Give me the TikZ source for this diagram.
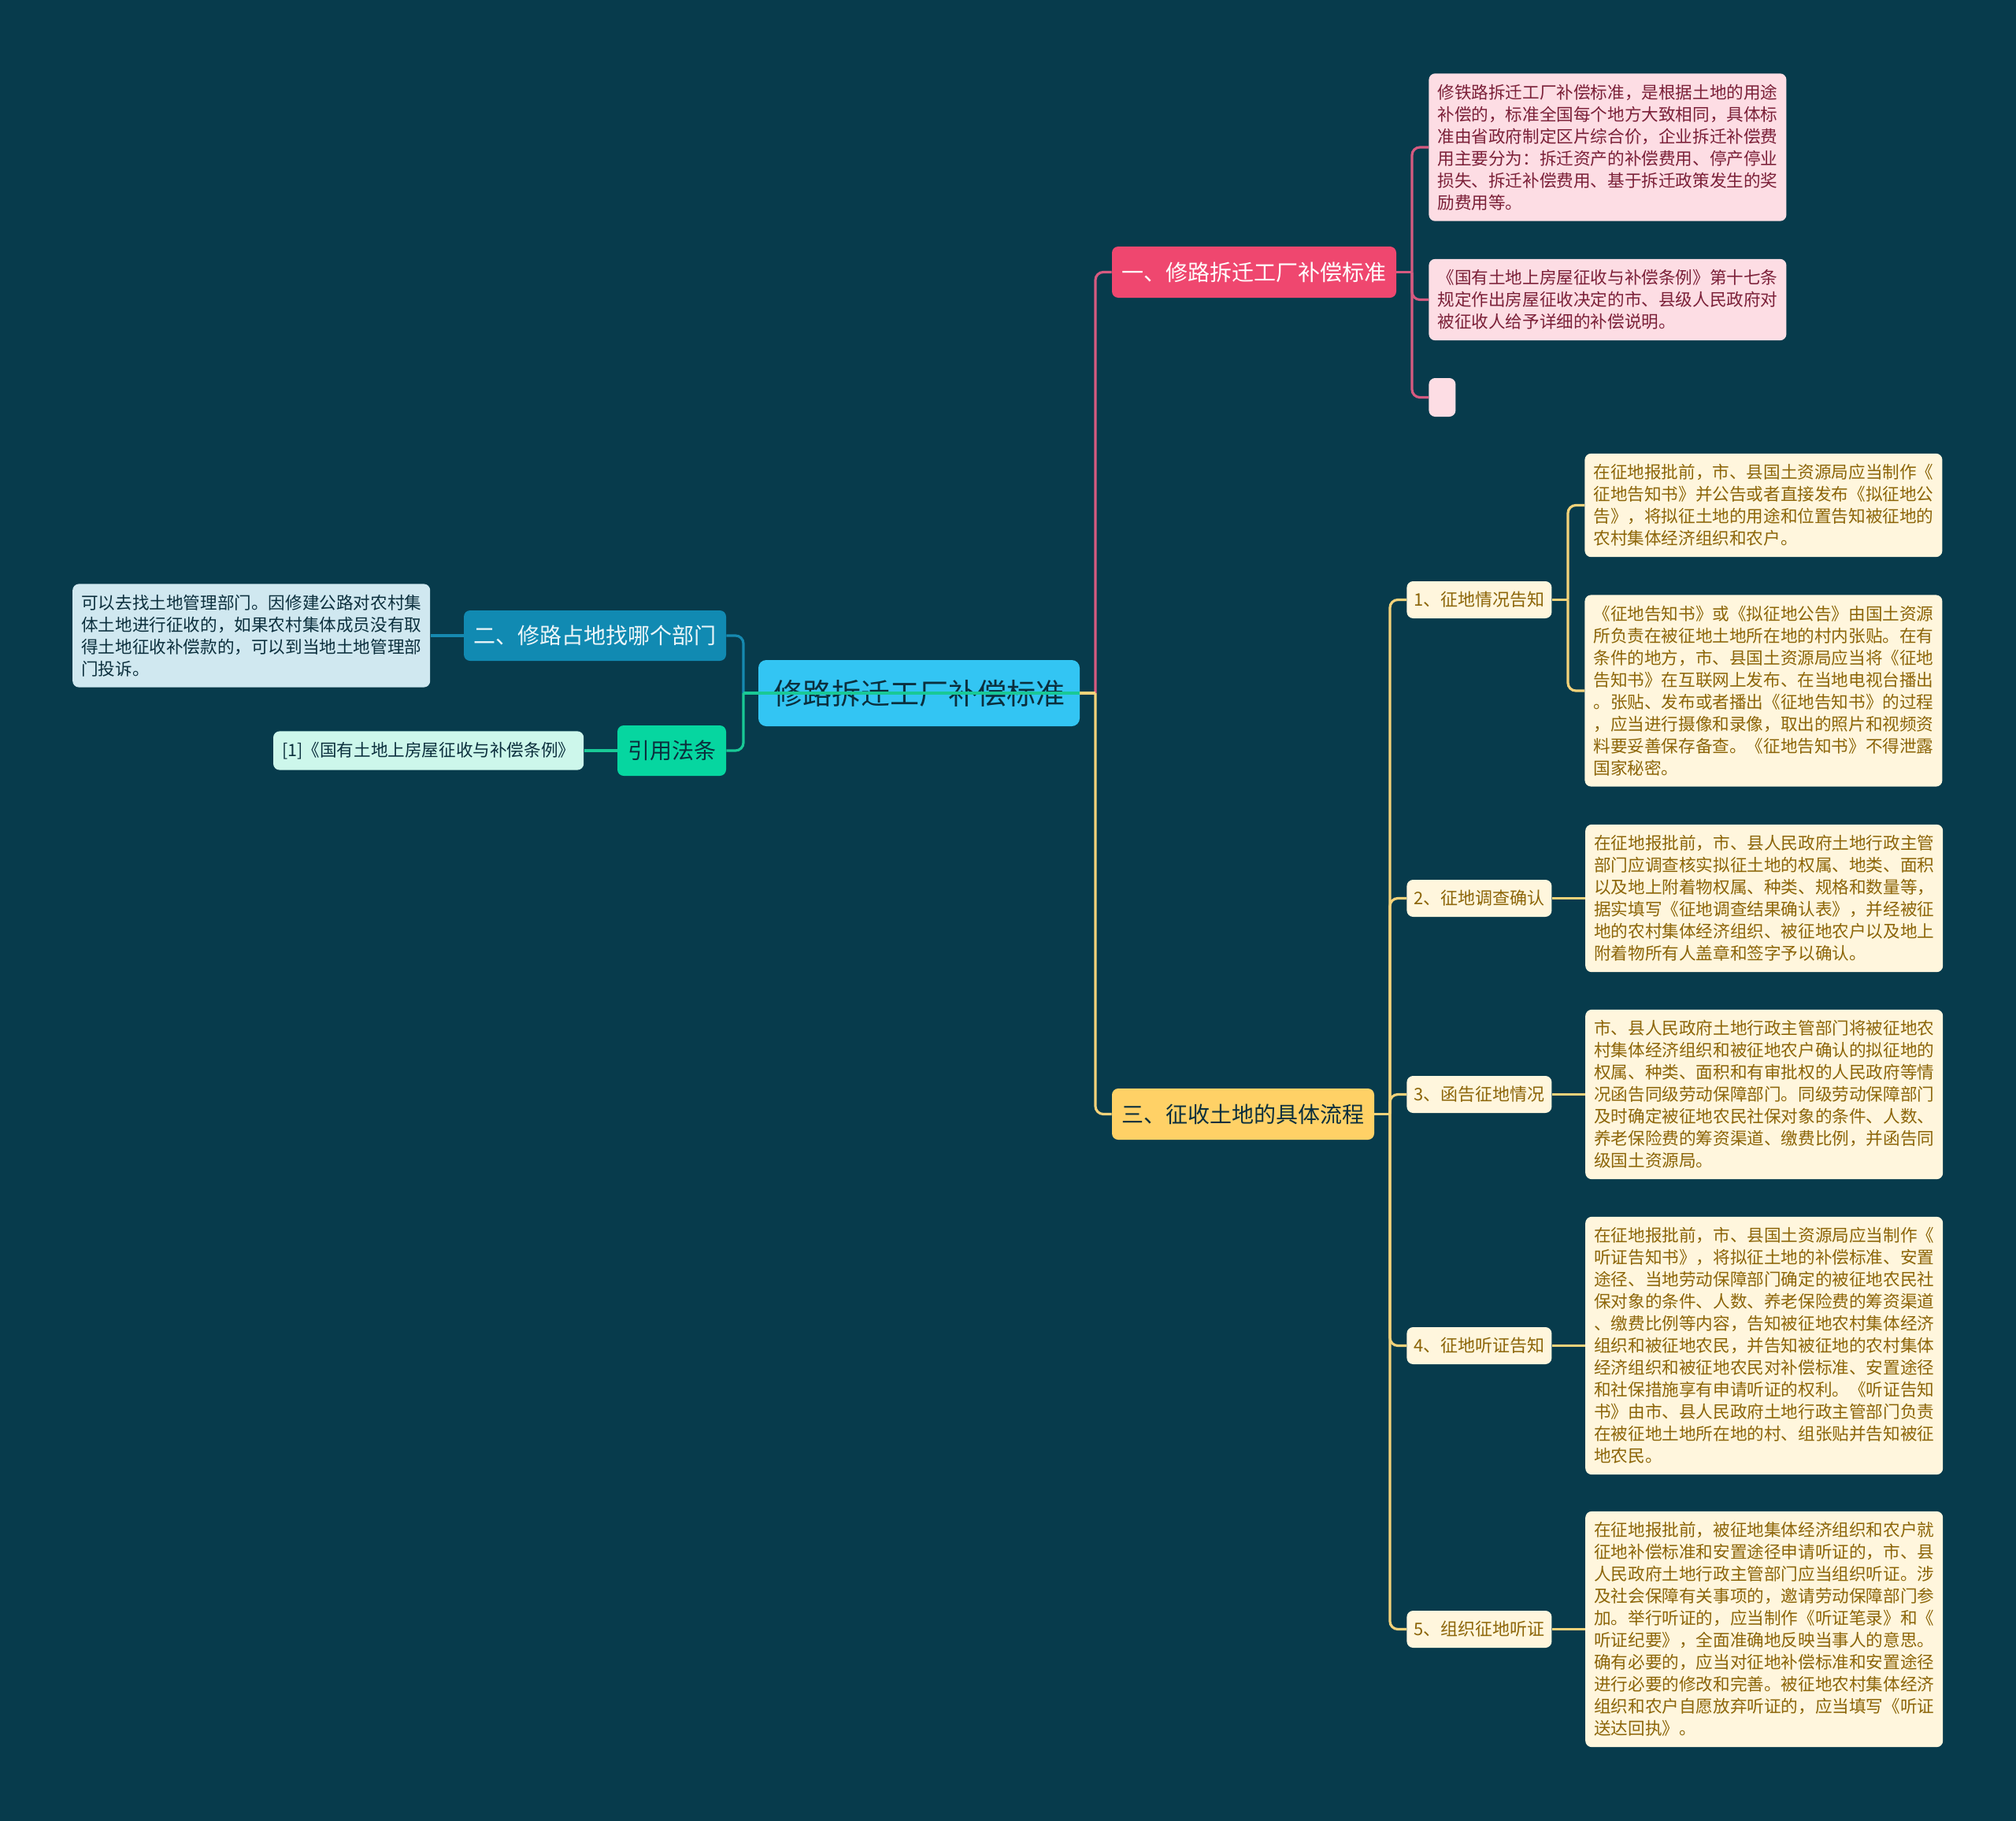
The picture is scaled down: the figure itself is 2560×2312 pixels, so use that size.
\documentclass[tikz,border=0pt]{standalone}
\usepackage{fontspec}
\setmainfont{Noto Sans CJK SC}
\usepackage{tikz}
\usetikzlibrary{positioning}
\definecolor{bgdark}{HTML}{073B4C}
\definecolor{rootblue}{HTML}{33C5F3}
\definecolor{topicpink}{HTML}{EF476F}
\definecolor{topicblue}{HTML}{118AB2}
\definecolor{topicgreen}{HTML}{06D6A0}
\definecolor{topicyellow}{HTML}{FFD166}
\definecolor{leafpink}{HTML}{FDDDE4}
\definecolor{leafyellow}{HTML}{FFF6DD}
\definecolor{leafblue}{HTML}{D0E8F0}
\definecolor{leafmint}{HTML}{CDF7EB}
\definecolor{inkpink}{HTML}{7B2038}
\definecolor{inkgold}{HTML}{8C6508}
\definecolor{inkdark}{HTML}{0B2F3D}
\definecolor{linepink}{HTML}{D65A80}
\definecolor{lineyellow}{HTML}{F3D27A}
\definecolor{linegreen}{HTML}{19C996}
\definecolor{lineblue}{HTML}{1689B0}

\begin{document}
\begin{tikzpicture}[x=0.5pt,y=-0.5pt,node distance=21pt]
    \tikzset{
      topic/.style={rounded corners=4pt,inner sep=0pt,align=center,minimum height=32.5pt,font=\fontsize{14}{17}\selectfont},
      leaf/.style={rounded corners=4pt,align=left,inner xsep=5.5pt,inner ysep=6.8pt,minimum width=227pt,font=\fontsize{10.8}{14}\selectfont},
      pinkleaf/.style={leaf,fill=leafpink,text=inkpink},
      goldleaf/.style={leaf,fill=leafyellow,text=inkgold},
      substep/.style={rounded corners=4pt,inner sep=0pt,fill=leafyellow,text=inkgold,minimum width=92pt,minimum height=23.5pt,font=\fontsize{11}{14}\selectfont},
      link/.style={line width=1.6pt},
      linkpink/.style={link,draw=linepink},
      linkyellow/.style={link,draw=lineyellow},
      linkgreen/.style={link,draw=linegreen},
      linkblue/.style={link,draw=lineblue}
    }
    \fill[bgdark] (0,0) rectangle (2560,2312);
    % centre and main branches
    \node[rounded corners=5pt,inner sep=0pt,fill=rootblue,text=inkdark,minimum width=204pt,minimum height=42pt,font=\fontsize{18.5}{22}\selectfont] (root) at (1167,880) {修路拆迁工厂补偿标准};
    \node[topic,fill=topicpink,text=white,minimum width=180.5pt] (n1) at (1592.5,345.5) {一、修路拆迁工厂补偿标准};
    \node[topic,fill=topicblue,text=white!92!topicblue,minimum width=166.5pt,minimum height=32pt] (n2) at (755.5,807) {二、修路占地找哪个部门};
    \node[topic,fill=topicyellow,text=inkdark,minimum width=166.5pt] (n3) at (1578.5,1414.5) {三、征收土地的具体流程};
    \node[topic,fill=topicgreen,text=inkdark,minimum width=69pt,minimum height=32pt] (ref) at (853,953) {引用法条};
    % branch one
    \node[pinkleaf,anchor=west] (pa) at (1814,187) {修铁路拆迁工厂补偿标准，是根据土地的用途\\
      补偿的，标准全国每个地方大致相同，具体标\\
      准由省政府制定区片综合价，企业拆迁补偿费\\
      用主要分为：拆迁资产的补偿费用、停产停业\\
      损失、拆迁补偿费用、基于拆迁政策发生的奖\\
      励费用等。};
    \node[pinkleaf,anchor=west] (pb) at (1814,380.5) {《国有土地上房屋征收与补偿条例》第十七条\\
      规定作出房屋征收决定的市、县级人民政府对\\
      被征收人给予详细的补偿说明。};
    \node[rounded corners=4pt,inner sep=0pt,fill=leafpink,minimum width=17pt,minimum height=24.5pt,anchor=west] (pc) at (1814,504.5) {};
    % branch two and references
    \node[leaf,fill=leafblue,text=inkdark,left=of n2] (nb) {可以去找土地管理部门。因修建公路对农村集\\
      体土地进行征收的，如果农村集体成员没有取\\
      得土地征收补偿款的，可以到当地土地管理部\\
      门投诉。};
    \node[leaf,fill=leafmint,text=inkdark,minimum width=197pt,left=of ref] (nr) {[1]《国有土地上房屋征收与补偿条例》};
    % branch three
    \node[substep,anchor=west] (s1) at (1786,761.5) {1、征地情况告知};
    \node[substep,anchor=west] (s2) at (1786,1140.5) {2、征地调查确认};
    \node[substep,anchor=west] (s3) at (1786,1389.5) {3、函告征地情况};
    \node[substep,anchor=west] (s4) at (1786,1708.5) {4、征地听证告知};
    \node[substep,anchor=west] (s5) at (1786,2068.5) {5、组织征地听证};
    \node[goldleaf,anchor=west] (y1a) at (2012,641.5) {在征地报批前，市、县国土资源局应当制作《\\
      征地告知书》并公告或者直接发布《拟征地公\\
      告》，将拟征土地的用途和位置告知被征地的\\
      农村集体经济组织和农户。};
    \node[goldleaf,anchor=west] (y1b) at (2012,877) {《征地告知书》或《拟征地公告》由国土资源\\
      所负责在被征地土地所在地的村内张贴。在有\\
      条件的地方，市、县国土资源局应当将《征地\\
      告知书》在互联网上发布、在当地电视台播出\\
      。张贴、发布或者播出《征地告知书》的过程\\
      ，应当进行摄像和录像，取出的照片和视频资\\
      料要妥善保存备查。《征地告知书》不得泄露\\
      国家秘密。};
    \node[goldleaf,right=of s2] (y2) {在征地报批前，市、县人民政府土地行政主管\\
      部门应调查核实拟征土地的权属、地类、面积\\
      以及地上附着物权属、种类、规格和数量等，\\
      据实填写《征地调查结果确认表》，并经被征\\
      地的农村集体经济组织、被征地农户以及地上\\
      附着物所有人盖章和签字予以确认。};
    \node[goldleaf,right=of s3] (y3) {市、县人民政府土地行政主管部门将被征地农\\
      村集体经济组织和被征地农户确认的拟征地的\\
      权属、种类、面积和有审批权的人民政府等情\\
      况函告同级劳动保障部门。同级劳动保障部门\\
      及时确定被征地农民社保对象的条件、人数、\\
      养老保险费的筹资渠道、缴费比例，并函告同\\
      级国土资源局。};
    \node[goldleaf,right=of s4] (y4) {在征地报批前，市、县国土资源局应当制作《\\
      听证告知书》，将拟征土地的补偿标准、安置\\
      途径、当地劳动保障部门确定的被征地农民社\\
      保对象的条件、人数、养老保险费的筹资渠道\\
      、缴费比例等内容，告知被征地农村集体经济\\
      组织和被征地农民，并告知被征地的农村集体\\
      经济组织和被征地农民对补偿标准、安置途径\\
      和社保措施享有申请听证的权利。《听证告知\\
      书》由市、县人民政府土地行政主管部门负责\\
      在被征地土地所在地的村、组张贴并告知被征\\
      地农民。};
    \node[goldleaf,right=of s5] (y5) {在征地报批前，被征地集体经济组织和农户就\\
      征地补偿标准和安置途径申请听证的，市、县\\
      人民政府土地行政主管部门应当组织听证。涉\\
      及社会保障有关事项的，邀请劳动保障部门参\\
      加。举行听证的，应当制作《听证笔录》和《\\
      听证纪要》，全面准确地反映当事人的意思。\\
      确有必要的，应当对征地补偿标准和安置途径\\
      进行必要的修改和完善。被征地农村集体经济\\
      组织和农户自愿放弃听证的，应当填写《听证\\
      送达回执》。};
    % junctions
    \coordinate (lj) at (944,880);
    \coordinate (rj) at (1391,880);
    \coordinate (pj) at (1793,345.5);
    \coordinate (yj) at (1765,1414.5);
    \coordinate (sj) at (1991,761.5);
    % connectors
    \draw[linkpink,rounded corners=5pt] (rj) |- (n1.west);
    \draw[linkpink] (n1.east) -- (pj);
    \foreach \leafname in {pa,pb,pc}
      \draw[linkpink,rounded corners=5pt] (pj) |- (\leafname.west);
    \draw[linkyellow] (root.east) -- (rj);
    \draw[linkyellow,rounded corners=5pt] (rj) |- (n3.west);
    \draw[linkyellow] (n3.east) -- (yj);
    \foreach \stepname in {s1,s2,s3,s4,s5}
      \draw[linkyellow,rounded corners=5pt] (yj) |- (\stepname.west);
    \draw[linkyellow] (s1.east) -- (sj);
    \draw[linkyellow,rounded corners=5pt] (sj) |- (y1a.west);
    \draw[linkyellow,rounded corners=5pt] (sj) |- (y1b.west);
    \draw[linkyellow] (s2) -- (y2);
    \draw[linkyellow] (s3) -- (y3);
    \draw[linkyellow] (s4) -- (y4);
    \draw[linkyellow] (s5) -- (y5);
    \draw[linkblue,rounded corners=5pt] (lj) |- (n2.east);
    \draw[linkblue] (n2) -- (nb);
    \draw[linkgreen,rounded corners=5pt] (lj) |- (ref.east);
    \draw[linkgreen] (root.east) -- (lj);
    \draw[linkgreen] (ref) -- (nr);
  \end{tikzpicture}
\end{document}
